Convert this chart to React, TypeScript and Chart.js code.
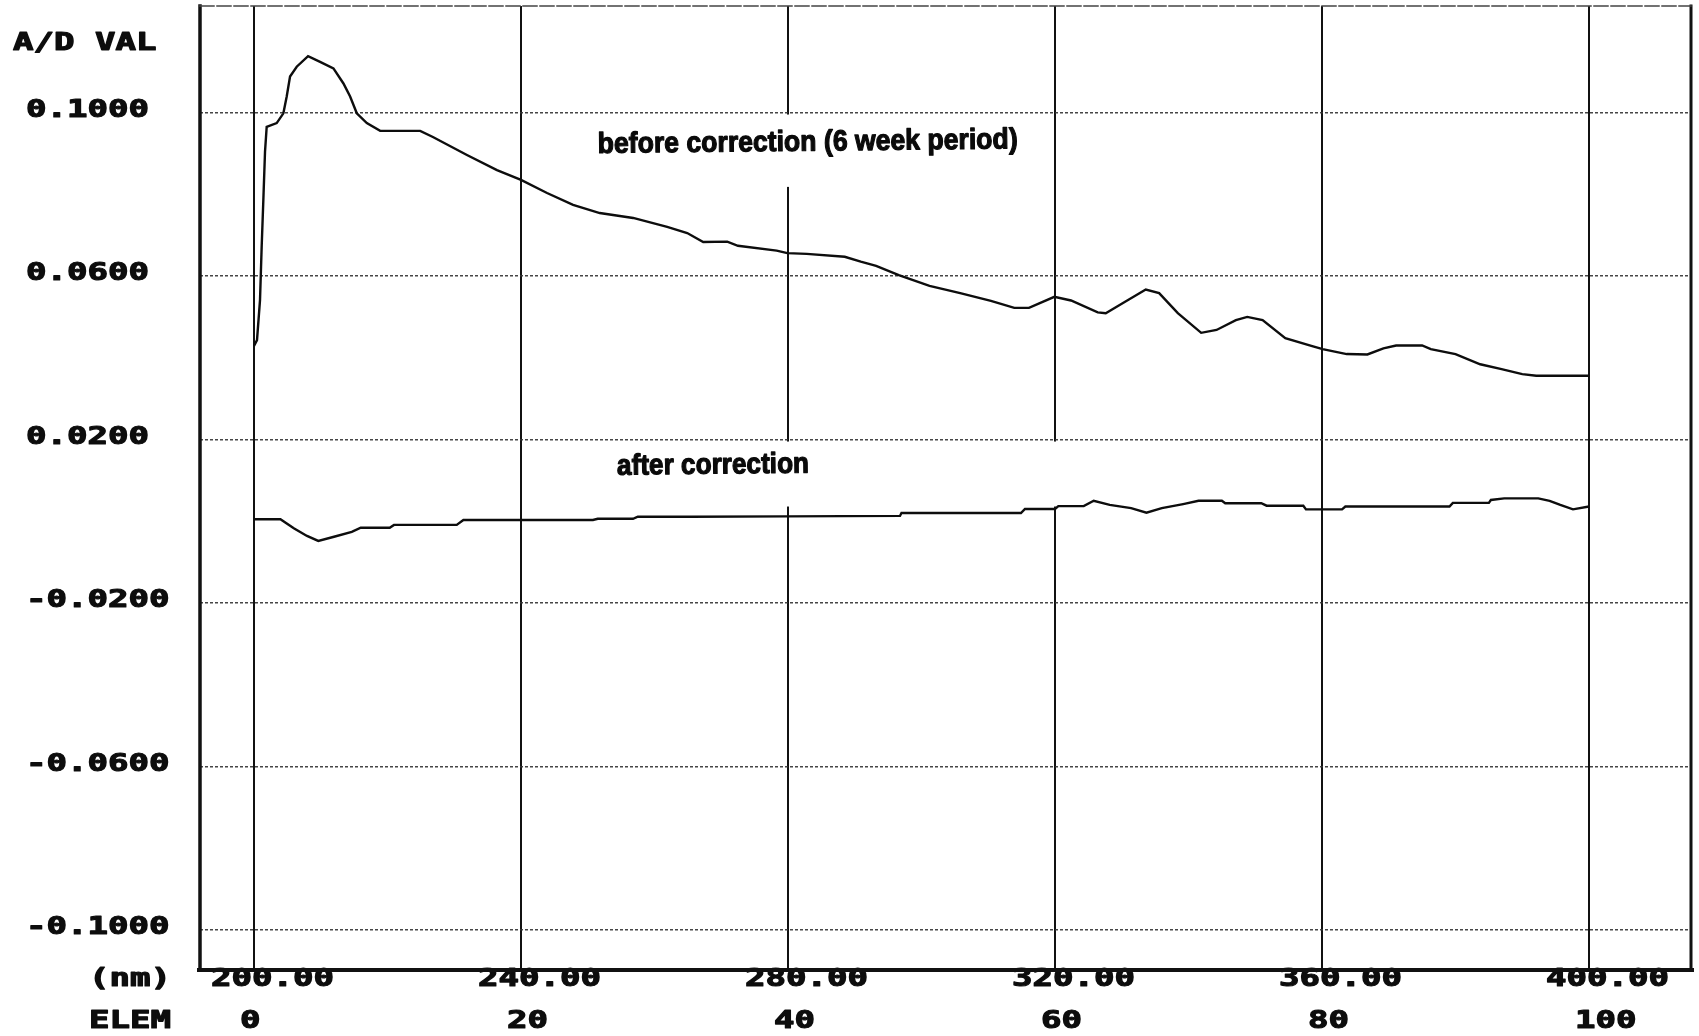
import React, { useEffect, useRef } from 'react';
import { Chart, registerables } from 'chart.js';

Chart.register(...registerables);

// ---- data ----
const wavelengthTicks = [200, 240, 280, 320, 360, 400];
const elemTicks = [0, 20, 40, 60, 80, 100];
const valueTicks = [0.1, 0.06, 0.02, -0.02, -0.06, -0.1];

const beforeNm = [200.0, 200.45, 200.9, 201.15, 201.4, 201.65, 201.9, 203.4, 204.4, 204.9, 205.4, 206.4, 208.1, 209.9, 211.9, 213.4, 214.4, 215.4, 216.9, 218.9, 224.9, 226.8, 231.9, 236.4, 240.0, 243.9, 247.8, 251.8, 256.8, 261.9, 264.9, 267.3, 270.9, 272.5, 278.3, 279.9, 282.8, 288.5, 290.9, 293.2, 296.6, 301.2, 305.8, 310.4, 313.9, 316.1, 319.9, 322.4, 326.4, 327.6, 330.5, 333.6, 335.6, 338.4, 341.9, 344.2, 347.1, 348.8, 351.1, 354.5, 358.4, 360.1, 363.7, 366.8, 369.2, 371.1, 375.0, 376.3, 380.0, 383.7, 386.9, 390.0, 392.1, 400.0];
const beforeVal = [0.0429, 0.0443, 0.0541, 0.0672, 0.0786, 0.0904, 0.0965, 0.0974, 0.0998, 0.1039, 0.1088, 0.1112, 0.1138, 0.1124, 0.1108, 0.1071, 0.1039, 0.0998, 0.0974, 0.0955, 0.0955, 0.0940, 0.0896, 0.0859, 0.0835, 0.0803, 0.0774, 0.0754, 0.0742, 0.0720, 0.0705, 0.0683, 0.0684, 0.0674, 0.0662, 0.0656, 0.0654, 0.0647, 0.0635, 0.0625, 0.0602, 0.0576, 0.0558, 0.0539, 0.0522, 0.0522, 0.0549, 0.0540, 0.0511, 0.0509, 0.0537, 0.0567, 0.0558, 0.0509, 0.0461, 0.0468, 0.0492, 0.0500, 0.0492, 0.0448, 0.0429, 0.0421, 0.0409, 0.0408, 0.0423, 0.0430, 0.0430, 0.0421, 0.0409, 0.0384, 0.0372, 0.0360, 0.0356, 0.0356];

const afterNm = [200.0, 203.96, 205.96, 207.94, 209.63, 211.99, 214.65, 215.99, 220.33, 220.97, 230.37, 231.37, 250.77, 251.5, 256.78, 257.5, 265.47, 279.7, 296.78, 297.0, 314.9, 315.5, 320.0, 320.5, 324.3, 325.8, 328.2, 331.4, 333.7, 336.0, 339.2, 341.5, 345.0, 345.5, 350.9, 351.7, 357.2, 357.6, 363.0, 363.5, 379.1, 379.6, 385.0, 385.3, 387.3, 392.4, 394.1, 395.7, 397.6, 400.0];
const afterVal = [0.0005, 0.0005, -0.0017, -0.0036, -0.0048, -0.0038, -0.0026, -0.0016, -0.0016, -0.0009, -0.0009, 0.0003, 0.0003, 0.0006, 0.0006, 0.0011, 0.0011, 0.0012, 0.0013, 0.0020, 0.0020, 0.0030, 0.0030, 0.0037, 0.0037, 0.0050, 0.0040, 0.0032, 0.0021, 0.0032, 0.0042, 0.0050, 0.0050, 0.0044, 0.0044, 0.0038, 0.0038, 0.0029, 0.0029, 0.0036, 0.0036, 0.0045, 0.0045, 0.0052, 0.0056, 0.0056, 0.0050, 0.0040, 0.0029, 0.0036];

const annotationTexts = ['before correction (6 week period)', 'after correction'];
const annotationNm = [251.5, 254.4];
const annotationVal = [0.0901, 0.0114];

// ---- styling / layout ----
const W = 1699;
const H = 1036;
const X_MIN = 191.91;
const X_MAX = 415.28;
const Y_MIN = -0.10979;
const Y_MAX = 0.126055;

const MONO = 'bold 24px "DejaVu Sans Mono", "Liberation Mono", monospace';
const MONO_SX = 1.42;
const ANN_FONT = 'bold 29px "Liberation Sans Narrow", "Liberation Sans", Arial, sans-serif';
const ANN_WIDTHS = [420, 192];
// white patches from the pasted annotation labels (in data units)
const GAP_BOXES = [
  { x0: 250, x1: 316, y0: 0.0995, y1: 0.0818 },
  { x0: 250, x1: 325, y0: 0.0195, y1: 0.0036 },
];

function wideText(ctx: CanvasRenderingContext2D, text: string, x: number, baseline: number) {
  ctx.save();
  ctx.translate(x, baseline);
  ctx.scale(MONO_SX, 1);
  ctx.font = MONO;
  ctx.fillStyle = '#0d0d0d';
  ctx.strokeStyle = '#0d0d0d';
  ctx.lineWidth = 1.1;
  ctx.lineJoin = 'round';
  ctx.textAlign = 'left';
  ctx.textBaseline = 'alphabetic';
  ctx.fillText(text, 0, 0);
  ctx.strokeText(text, 0, 0);
  ctx.restore();
}

const gapPlugin = {
  id: 'gapBoxes',
  beforeDatasetsDraw(chart: any) {
    const { ctx, scales } = chart;
    const xs = scales.x;
    const ys = scales.y;
    ctx.save();
    ctx.fillStyle = '#ffffff';
    GAP_BOXES.forEach((b) => {
      const l = xs.getPixelForValue(b.x0);
      const r = xs.getPixelForValue(b.x1);
      const t = ys.getPixelForValue(b.y0);
      const bt = ys.getPixelForValue(b.y1);
      ctx.fillRect(l, t, r - l, bt - t);
    });
    ctx.restore();
  },
};

const labelPlugin = {
  id: 'printerLabels',
  afterDraw(chart: any) {
    const { ctx, chartArea: a, scales } = chart;
    const xs = scales.x;
    const ys = scales.y;

    // annotations
    annotationTexts.forEach((t, i) => {
      const px = xs.getPixelForValue(annotationNm[i]);
      const py = ys.getPixelForValue(annotationVal[i]);
      ctx.save();
      ctx.font = ANN_FONT;
      const w = ctx.measureText(t).width;
      ctx.translate(px, py);
      ctx.rotate(-0.011);
      ctx.scale(ANN_WIDTHS[i] / w, 1);
      ctx.fillStyle = '#0a0a0a';
      ctx.strokeStyle = '#0a0a0a';
      ctx.lineWidth = 1.2;
      ctx.lineJoin = 'round';
      ctx.textAlign = 'left';
      ctx.textBaseline = 'alphabetic';
      ctx.fillText(t, 0, 0);
      ctx.strokeText(t, 0, 0);
      ctx.restore();
    });

    // axis texts
    wideText(ctx, 'A/D VAL', 13, 50);
    valueTicks.forEach((v) => {
      wideText(ctx, v.toFixed(4), 26, ys.getPixelForValue(v) + 4.5);
    });
    wideText(ctx, '(nm)', 89, 986);
    wavelengthTicks.forEach((nm) => {
      wideText(ctx, nm.toFixed(2), xs.getPixelForValue(nm) - 43, 986);
    });
    wideText(ctx, 'ELEM', 89, 1028);
    elemTicks.forEach((e, i) => {
      wideText(ctx, String(e), xs.getPixelForValue(wavelengthTicks[i]) - 14, 1028);
    });

    // frame
    ctx.save();
    ctx.strokeStyle = '#111';
    ctx.lineCap = 'square';
    ctx.lineWidth = 4;
    ctx.beginPath();
    ctx.moveTo(a.left - 1, a.bottom);
    ctx.lineTo(a.right + 1, a.bottom);
    ctx.stroke();
    ctx.lineWidth = 3.5;
    ctx.beginPath();
    ctx.moveTo(a.left, a.top);
    ctx.lineTo(a.left, a.bottom);
    ctx.stroke();
    ctx.lineWidth = 3;
    ctx.beginPath();
    ctx.moveTo(a.right, a.top);
    ctx.lineTo(a.right, a.bottom);
    ctx.stroke();
    ctx.lineWidth = 1.5;
    ctx.strokeStyle = '#444';
    ctx.setLineDash([14, 3]);
    ctx.beginPath();
    ctx.moveTo(a.left, a.top);
    ctx.lineTo(a.right, a.top);
    ctx.stroke();
    ctx.restore();
  },
};

export default function App() {
  const ref = useRef<HTMLCanvasElement | null>(null);

  useEffect(() => {
    if (!ref.current) return;
    const chart = new Chart(ref.current, {
      type: 'line',
      data: {
        datasets: [
          {
            label: 'before correction (6 week period)',
            data: beforeNm.map((x, i) => ({ x, y: beforeVal[i] })),
            borderColor: '#0d0d0d',
            borderWidth: 2.4,
            pointRadius: 0,
            tension: 0,
            fill: false,
          },
          {
            label: 'after correction',
            data: afterNm.map((x, i) => ({ x, y: afterVal[i] })),
            borderColor: '#0d0d0d',
            borderWidth: 2.4,
            pointRadius: 0,
            tension: 0,
            fill: false,
          },
        ],
      },
      options: {
        animation: false,
        responsive: false,
        devicePixelRatio: 1,
        layout: { padding: { left: 200, right: 8, top: 6, bottom: 66 } },
        plugins: {
          legend: { display: false },
          tooltip: { enabled: false },
          title: { display: false },
        },
        scales: {
          x: {
            type: 'linear',
            min: X_MIN,
            max: X_MAX,
            afterBuildTicks: (s: any) => {
              s.ticks = wavelengthTicks.map((value) => ({ value }));
            },
            afterFit: (s: any) => {
              s.height = 0;
            },
            ticks: { display: false },
            grid: { color: '#111', lineWidth: 2, drawTicks: false },
            border: { display: false },
          },
          y: {
            type: 'linear',
            min: Y_MIN,
            max: Y_MAX,
            afterBuildTicks: (s: any) => {
              s.ticks = valueTicks.map((value) => ({ value }));
            },
            afterFit: (s: any) => {
              s.width = 0;
            },
            ticks: { display: false },
            grid: { color: 'rgba(50,50,50,0.9)', lineWidth: 1.6, drawTicks: false, borderDash: [3, 2] } as any,
            border: { display: false, dash: [3, 2] },
          },
        },
      } as any,
      plugins: [gapPlugin, labelPlugin],
    });
    return () => chart.destroy();
  }, []);

  return (
    <div style={{ position: 'absolute', left: 0, top: 0, width: W, height: H, background: '#fff' }}>
      <canvas ref={ref} width={W} height={H} style={{ display: 'block', width: W, height: H }} />
    </div>
  );
}
